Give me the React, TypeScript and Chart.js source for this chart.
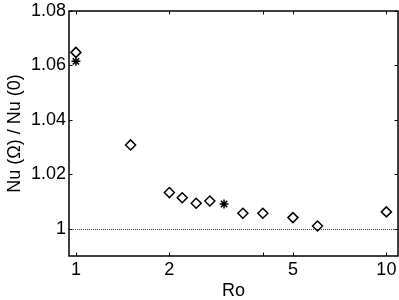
import React, { useEffect, useRef } from 'react';
import { Chart, registerables } from 'chart.js';

Chart.register(...registerables);

// Data
const diamondRo = [1, 1.5, 2, 2.2, 2.44, 2.7, 3.45, 4, 5, 6, 10];
const diamondNu = [1.0648, 1.0308, 1.0133, 1.0114, 1.0094, 1.0102, 1.0057, 1.0057, 1.0041, 1.001, 1.0062];
const starRo = [1, 3];
const starNu = [1.0615, 1.0091];

const xTicks = [1, 2, 4, 5, 10];
const xTickLabels = ['1', '2', '', '5', '10'];
const yTicks = [1, 1.02, 1.04, 1.06, 1.08];
const yTickLabels = ['1', '1.02', '1.04', '1.06', '1.08'];
const referenceNu = 1;

const xMin = 0.95;
const xMax = 10.9;
const yMin = 0.99;
const yMax = 1.08;

const FONT = "'Liberation Sans', Arial, Helvetica, sans-serif";

const framePlugin = {
  id: 'matlabFrame',
  beforeDatasetsDraw(chart: any) {
    const { ctx, chartArea: a, scales } = chart;
    const y = Math.round(scales.y.getPixelForValue(referenceNu)) + 0.5;
    ctx.save();
    ctx.strokeStyle = '#444';
    ctx.lineWidth = 1;
    ctx.setLineDash([1, 1]);
    ctx.beginPath();
    ctx.moveTo(a.left, y);
    ctx.lineTo(a.right, y);
    ctx.stroke();
    ctx.restore();
  },
  afterDraw(chart: any) {
    const { ctx, chartArea: a, scales } = chart;
    ctx.save();
    ctx.strokeStyle = '#000';
    ctx.lineWidth = 1.5;
    ctx.strokeRect(a.left, a.top, a.right - a.left, a.bottom - a.top);
    ctx.lineWidth = 1;
    const L = 3.5;
    const seg = (x1: number, y1: number, x2: number, y2: number) => {
      ctx.beginPath();
      ctx.moveTo(x1, y1);
      ctx.lineTo(x2, y2);
      ctx.stroke();
    };
    scales.x.ticks.forEach((t: any) => {
      const px = Math.round(scales.x.getPixelForValue(t.value)) + 0.5;
      seg(px, a.bottom, px, a.bottom - L);
      seg(px, a.top, px, a.top + L);
    });
    scales.y.ticks.forEach((t: any) => {
      const py = Math.round(scales.y.getPixelForValue(t.value)) + 0.5;
      seg(a.left, py, a.left + L, py);
      seg(a.right, py, a.right - L, py);
    });
    ctx.restore();
  },
};

export default function App() {
  const canvasRef = useRef<HTMLCanvasElement | null>(null);

  useEffect(() => {
    if (!canvasRef.current) return;
    const chart = new Chart(canvasRef.current, {
      type: 'scatter',
      data: {
        datasets: [
          {
            label: 'diamonds',
            data: diamondRo.map((x, i) => ({ x, y: diamondNu[i] })),
            pointStyle: 'rectRot',
            pointRadius: 5,
            pointBorderWidth: 1.5,
            borderColor: '#000',
            backgroundColor: 'rgba(255,255,255,0)',
            showLine: false,
          },
          {
            label: 'stars',
            data: starRo.map((x, i) => ({ x, y: starNu[i] })),
            pointStyle: 'star',
            pointRadius: 4.5,
            pointBorderWidth: 1.5,
            borderColor: '#000',
            backgroundColor: '#000',
            showLine: false,
          },
        ],
      },
      options: {
        responsive: false,
        animation: false,
        layout: { autoPadding: false, padding: { left: 0, top: 11, right: 1, bottom: 0 } },
        plugins: {
          legend: { display: false },
          tooltip: { enabled: false },
        },
        scales: {
          x: {
            type: 'logarithmic',
            min: xMin,
            max: xMax,
            grid: { display: false, drawTicks: false },
            border: { display: false },
            afterBuildTicks: (scale: any) => {
              scale.ticks = xTicks.map((v) => ({ value: v }));
            },
            afterFit: (scale: any) => {
              scale.height = 44;
              scale.paddingLeft = 0;
              scale.paddingRight = 0;
            },
            ticks: {
              autoSkip: false,
              maxRotation: 0,
              padding: 3,
              color: '#000',
              font: { family: FONT, size: 18 },
              callback: (_v: any, i: number) => xTickLabels[i],
            },
            title: {
              display: true,
              text: 'Ro',
              color: '#000',
              font: { family: FONT, size: 18, lineHeight: 1 },
              padding: { top: 0, bottom: 0 },
            },
          },
          y: {
            type: 'linear',
            min: yMin,
            max: yMax,
            grid: { display: false, drawTicks: false },
            border: { display: false },
            afterBuildTicks: (scale: any) => {
              scale.ticks = yTicks.map((v) => ({ value: v }));
            },
            afterFit: (scale: any) => {
              scale.width = 69;
              scale.paddingTop = 0;
              scale.paddingBottom = 0;
            },
            ticks: {
              padding: 3,
              color: '#000',
              font: { family: FONT, size: 18 },
              callback: (_v: any, i: number) => yTickLabels[i],
            },
            title: {
              display: true,
              text: 'Nu (Ω) / Nu (0)',
              color: '#000',
              font: { family: FONT, size: 18, lineHeight: 1 },
              padding: { top: 6, bottom: 0 },
            },
          },
        },
      },
      plugins: [framePlugin],
    });
    return () => chart.destroy();
  }, []);

  return (
    <div style={{ position: 'fixed', left: 0, top: 0, width: 399, height: 300, background: '#fff' }}>
      <canvas ref={canvasRef} width={399} height={300} style={{ display: 'block', width: 399, height: 300 }} />
    </div>
  );
}
